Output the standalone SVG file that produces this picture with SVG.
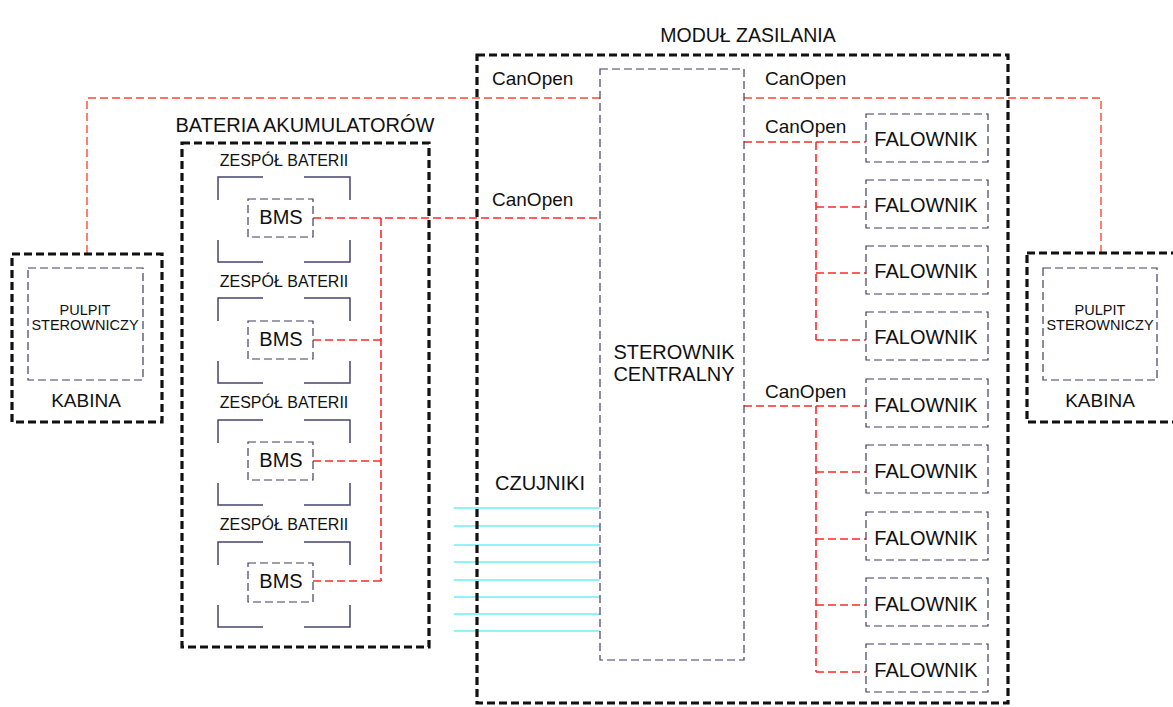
<svg xmlns="http://www.w3.org/2000/svg" width="1173" height="707" viewBox="0 0 1173 707">
<style>
text{font-family:"Liberation Sans",Arial,sans-serif;fill:#111}
.thick{fill:none;stroke:#111;stroke-width:3.2;stroke-dasharray:8 4}
.thin{fill:none;stroke:#3e3e62;stroke-width:1.2;stroke-dasharray:8 4}
.br{fill:none;stroke:#45456e;stroke-width:1.5}
.red{fill:none;stroke:#ff2a2a;stroke-width:1.6;stroke-dasharray:8 4}
.top{fill:none;stroke:#ff4a30;stroke-width:1.4;stroke-dasharray:8 4}
.cy{fill:none;stroke:#22e8f0;stroke-width:1.2}
.t14{font-size:14.5px}
.t16{font-size:16px}
.t19{font-size:19px}
.t20{font-size:20px}
</style>
<rect width="1173" height="707" fill="#fff"/>

<g id="connectors">
<path class="top" d="M87,253 V98 H600"/>
<path class="top" d="M744,98 H1101 V253"/>
<path class="red" d="M313,218 H600"/>
<path class="red" d="M381,218 V581"/>
<path class="red" d="M313,340 H381 M313,461 H381 M313,581 H381"/>
<path class="red" d="M744,142 H866 M816,142 V340 M816,207 H866 M816,273 H866 M816,340 H866"/>
<path class="red" d="M744,406 H866 M816,406 V672 M816,472 H866 M816,539 H866 M816,605 H866 M816,672 H866"/>
<path class="cy" d="M454,508 H600 M454,526 H600 M454,545 H600 M454,562 H600 M454,580 H600 M454,597 H600 M454,614 H600 M454,631 H600"/>
</g>

<g id="kabina-left">
<rect class="thick" x="12" y="254" width="150" height="168"/>
<rect class="thin" x="28" y="268" width="115" height="112"/>
<text class="t14" x="85" y="315" text-anchor="middle">PULPIT</text>
<text class="t14" x="85" y="330" text-anchor="middle">STEROWNICZY</text>
<text class="t19" x="86" y="407" text-anchor="middle">KABINA</text>
</g>

<g id="kabina-right">
<rect class="thick" x="1027" y="253" width="160" height="169"/>
<rect class="thin" x="1043" y="268" width="114" height="112"/>
<text class="t14" x="1100" y="315" text-anchor="middle">PULPIT</text>
<text class="t14" x="1100" y="330" text-anchor="middle">STEROWNICZY</text>
<text class="t19" x="1100" y="407" text-anchor="middle">KABINA</text>
</g>

<g id="bateria">
<text x="305" y="132" text-anchor="middle" style="font-size:20px">BATERIA AKUMULATORÓW</text>
<rect class="thick" x="182" y="143" width="247" height="504"/>
</g>

<g id="zespol-1">
<text class="t16" x="284" y="166" text-anchor="middle">ZESPÓŁ BATERII</text>
<path class="br" d="M218,200 V177 H263 M304,177 H350 V200 M218,240 V262 H263 M304,262 H350 V240"/>
<rect class="thin" x="248" y="199" width="65" height="38"/>
<text class="t20" x="281" y="224" text-anchor="middle">BMS</text>
</g>
<g id="zespol-2">
<text class="t16" x="284" y="287" text-anchor="middle">ZESPÓŁ BATERII</text>
<path class="br" d="M218,321 V298 H263 M304,298 H350 V321 M218,361 V383 H263 M304,383 H350 V361"/>
<rect class="thin" x="248" y="321" width="65" height="38"/>
<text class="t20" x="281" y="346" text-anchor="middle">BMS</text>
</g>
<g id="zespol-3">
<text class="t16" x="284" y="408" text-anchor="middle">ZESPÓŁ BATERII</text>
<path class="br" d="M218,443 V420 H263 M304,420 H350 V443 M218,483 V505 H263 M304,505 H350 V483"/>
<rect class="thin" x="248" y="442" width="65" height="38"/>
<text class="t20" x="281" y="467" text-anchor="middle">BMS</text>
</g>
<g id="zespol-4">
<text class="t16" x="284" y="530" text-anchor="middle">ZESPÓŁ BATERII</text>
<path class="br" d="M218,565 V542 H263 M304,542 H350 V565 M218,605 V627 H263 M304,627 H350 V605"/>
<rect class="thin" x="248" y="563" width="65" height="39"/>
<text class="t20" x="281" y="588" text-anchor="middle">BMS</text>
</g>

<g id="modul">
<text x="748" y="42" text-anchor="middle" style="font-size:19.5px">MODUŁ ZASILANIA</text>
<rect class="thick" x="477" y="55" width="531" height="648"/>
<text class="t19" x="492" y="85">CanOpen</text>
<text class="t19" x="492" y="206">CanOpen</text>
<text class="t19" x="765" y="85">CanOpen</text>
<text class="t19" x="765" y="133">CanOpen</text>
<text class="t19" x="765" y="398">CanOpen</text>
<text class="t20" x="495" y="490">CZUJNIKI</text>
</g>

<g id="sterownik">
<rect class="thin" x="600" y="69" width="144" height="591"/>
<text class="t20" x="674" y="359" text-anchor="middle">STEROWNIK</text>
<text class="t20" x="674" y="381" text-anchor="middle">CENTRALNY</text>
</g>

<g id="falownik-1"><rect class="thin" x="866" y="114" width="122" height="48"/><text class="t20" x="926" y="146" text-anchor="middle">FALOWNIK</text></g>
<g id="falownik-2"><rect class="thin" x="866" y="180" width="122" height="48"/><text class="t20" x="926" y="212" text-anchor="middle">FALOWNIK</text></g>
<g id="falownik-3"><rect class="thin" x="866" y="246" width="122" height="48"/><text class="t20" x="926" y="278" text-anchor="middle">FALOWNIK</text></g>
<g id="falownik-4"><rect class="thin" x="866" y="312" width="122" height="48"/><text class="t20" x="926" y="344" text-anchor="middle">FALOWNIK</text></g>
<g id="falownik-5"><rect class="thin" x="866" y="379" width="122" height="48"/><text class="t20" x="926" y="412" text-anchor="middle">FALOWNIK</text></g>
<g id="falownik-6"><rect class="thin" x="866" y="445" width="122" height="48"/><text class="t20" x="926" y="478" text-anchor="middle">FALOWNIK</text></g>
<g id="falownik-7"><rect class="thin" x="866" y="512" width="122" height="48"/><text class="t20" x="926" y="545" text-anchor="middle">FALOWNIK</text></g>
<g id="falownik-8"><rect class="thin" x="866" y="578" width="122" height="48"/><text class="t20" x="926" y="611" text-anchor="middle">FALOWNIK</text></g>
<g id="falownik-9"><rect class="thin" x="866" y="644" width="122" height="48"/><text class="t20" x="926" y="677" text-anchor="middle">FALOWNIK</text></g>
</svg>
